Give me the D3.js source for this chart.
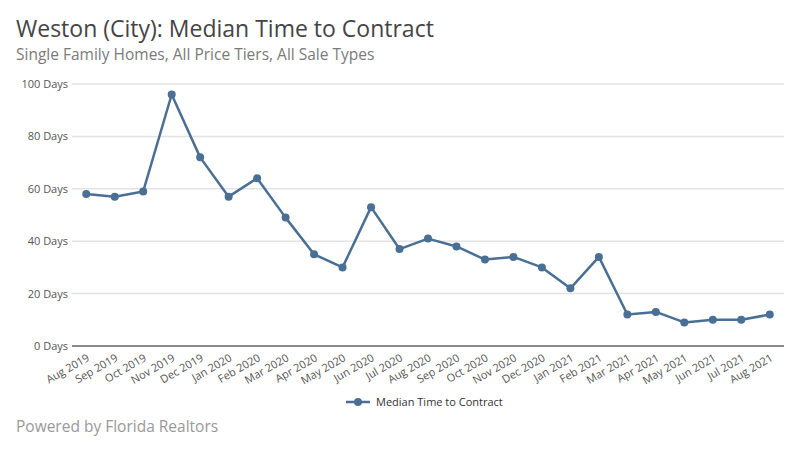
<!DOCTYPE html>
<html>
<head>
<meta charset="utf-8">
<script src="https://cdn.jsdelivr.net/npm/d3@7"></script>
<style>
	body { margin: 0; background: #fff; }
	svg { display: block; font-family: 'Open Sans', sans-serif; }
</style>
</head>
<body>
<script>
var months = ['Aug 2019','Sep 2019','Oct 2019','Nov 2019','Dec 2019','Jan 2020','Feb 2020','Mar 2020','Apr 2020','May 2020','Jun 2020','Jul 2020','Aug 2020','Sep 2020','Oct 2020','Nov 2020','Dec 2020','Jan 2021','Feb 2021','Mar 2021','Apr 2021','May 2021','Jun 2021','Jul 2021','Aug 2021']
var days = [58, 57, 59, 96, 72, 57, 64, 49, 35, 30, 53, 37, 41, 38, 33, 34, 30, 22, 34, 12, 13, 9, 10, 10, 12]
var yTicks = [0, 20, 40, 60, 80, 100]
var seriesName = 'Median Time to Contract'

var lineColor = '#4a6f94'

var svg = d3.select('body').append('svg')
	.attr('width', 800)
	.attr('height', 450)

svg.append('text')
	.attr('x', 16).attr('y', 37)
	.attr('font-size', 23)
	.attr('fill', '#444')
	.text('Weston (City): Median Time to Contract')

svg.append('text')
	.attr('x', 16).attr('y', 60)
	.attr('font-size', 15.5)
	.attr('fill', '#7a7a7a')
	.text('Single Family Homes, All Price Tiers, All Sale Types')

var x = d3.scalePoint()
	.domain(months)
	.range([72, 784])
	.padding(0.5)

var y = d3.scaleLinear()
	.domain([0, 100])
	.range([346, 84])

// grid
svg.append('g').selectAll('line')
	.data(yTicks.filter(function(d) { return d > 0 }))
	.enter().append('line')
	.attr('x1', 72).attr('x2', 784)
	.attr('y1', function(d) { return y(d) }).attr('y2', function(d) { return y(d) })
	.attr('stroke', '#e3e3e3')
	.attr('stroke-width', 1.5)

svg.append('line')
	.attr('x1', 72).attr('x2', 784)
	.attr('y1', y(0)).attr('y2', y(0))
	.attr('stroke', '#8a8a8a')
	.attr('stroke-width', 2)

svg.append('g').selectAll('text')
	.data(yTicks)
	.enter().append('text')
	.attr('x', 68)
	.attr('y', function(d) { return y(d) + 4 })
	.attr('text-anchor', 'end')
	.attr('font-size', 11)
	.attr('fill', '#555')
	.text(function(d) { return d + ' Days' })

svg.append('g').selectAll('text')
	.data(months)
	.enter().append('text')
	.attr('text-anchor', 'end')
	.attr('font-size', 11)
	.attr('fill', '#555')
	.attr('transform', function(d) { return 'translate(' + (x(d) + 4) + ',' + 360 + ') rotate(-30)' })
	.text(function(d) { return d })

var line = d3.line()
	.x(function(d, i) { return x(months[i]) })
	.y(function(d) { return y(d) })

svg.append('path')
	.datum(days)
	.attr('d', line)
	.attr('fill', 'none')
	.attr('stroke', lineColor)
	.attr('stroke-width', 2.5)
	.attr('stroke-linejoin', 'round')

svg.append('g').selectAll('circle')
	.data(days)
	.enter().append('circle')
	.attr('cx', function(d, i) { return x(months[i]) })
	.attr('cy', function(d) { return y(d) })
	.attr('r', 4)
	.attr('fill', lineColor)

// legend
var legend = svg.append('g').attr('transform', 'translate(346,402)')
legend.append('line')
	.attr('x1', 0).attr('x2', 24)
	.attr('stroke', lineColor).attr('stroke-width', 2.5)
legend.append('circle')
	.attr('cx', 12).attr('r', 4).attr('fill', lineColor)
legend.append('text')
	.attr('x', 30).attr('y', 4)
	.attr('font-size', 11)
	.attr('fill', '#333')
	.text(seriesName)

svg.append('text')
	.attr('x', 16).attr('y', 432)
	.attr('font-size', 15.5)
	.attr('fill', '#999')
	.text('Powered by Florida Realtors')
</script>
</body>
</html>
